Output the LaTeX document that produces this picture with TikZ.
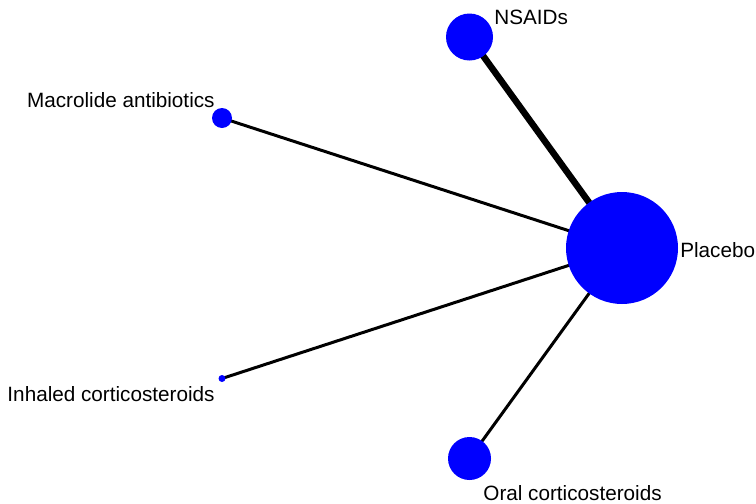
\documentclass[tikz,border=0pt]{standalone}
\usepackage{fontspec}
\setmainfont{Liberation Sans}
\usepackage{tikz}
\usetikzlibrary{backgrounds}
\definecolor{treat}{RGB}{0, 0, 255}

\begin{document}
\begin{tikzpicture}[x=1pt, y=-1pt, thick,
  trt/.style={circle, fill=treat, inner sep=0pt},
  lbl/.style={inner sep=0pt, font=\fontsize{20.7}{24}\selectfont}]
  \useasboundingbox (0, 0) rectangle (756, 504);

  \node[trt, minimum size=112pt] (plac) at (622, 248) {};
  \node[lbl, anchor=east] (placlbl) at (755.5, 250) {Placebo};

  \node[trt, minimum size=47pt] (nsaid) at (469.5, 37) {};
  \node[lbl, anchor=west] (nsaidlbl) at (494, 17) {NSAIDs};

  \node[trt, minimum size=20pt] (macro) at (222, 118) {};
  \node[lbl, anchor=east] (macrolbl) at (215, 100) {Macrolide antibiotics};

  \node[trt, minimum size=7pt] (inhal) at (222, 378.5) {};
  \node[lbl, anchor=east] (inhallbl) at (215, 394) {Inhaled corticosteroids};

  \node[trt, minimum size=43pt] (oral) at (469.5, 458.5) {};
  \node[lbl, anchor=west] (orallbl) at (483, 493) {Oral corticosteroids};

  \begin{scope}[on background layer]
    \draw [line width=6.5pt] (plac.center) -- (nsaid.center);
    \draw [line width=3pt] (plac.center) -- (macro.center);
    \draw [line width=3pt] (plac.center) -- (inhal.center);
    \draw [line width=3pt] (plac.center) -- (oral.center);
  \end{scope}
\end{tikzpicture}
\end{document}
